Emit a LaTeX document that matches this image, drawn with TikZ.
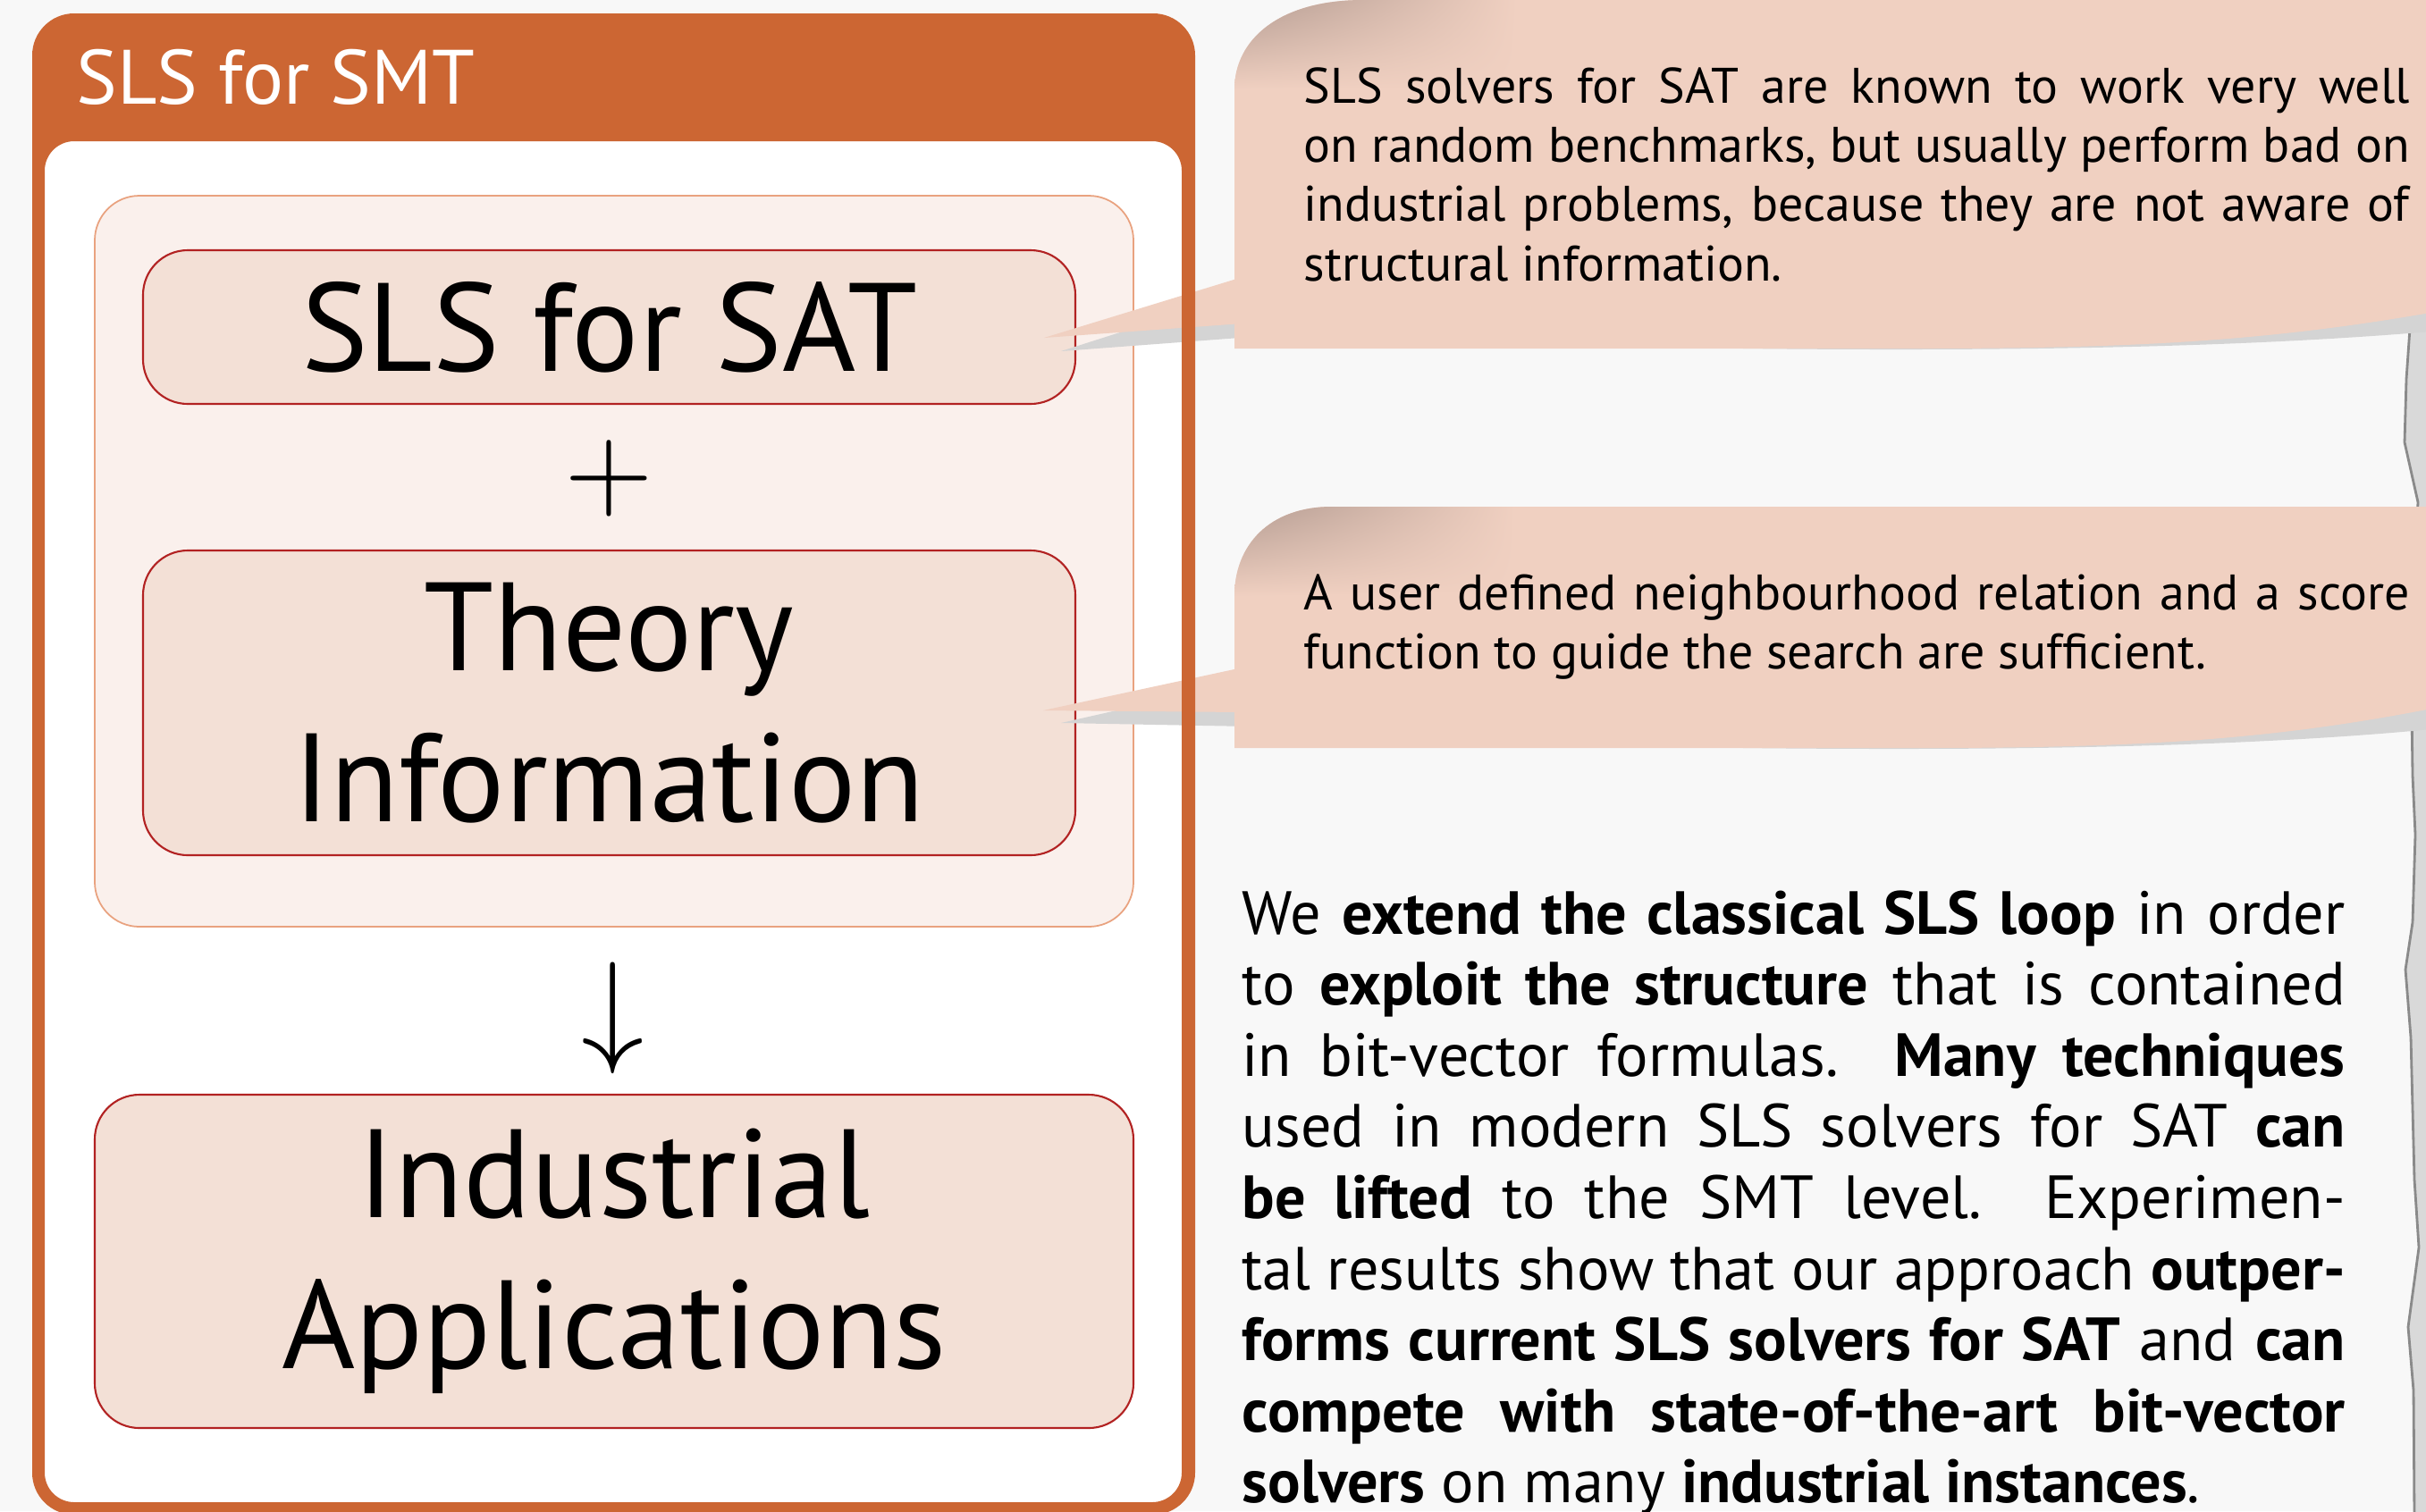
\documentclass[tikz,border=0pt]{standalone}
\usepackage{graphicx}
\usepackage{fontspec}
\setmainfont{PT Sans}
\usetikzlibrary{calc,shadings}

\definecolor{bgcol}{HTML}{F8F8F8}
\definecolor{blockorange}{HTML}{CC6633}
\definecolor{groupfill}{HTML}{FAF0EC}
\definecolor{groupline}{HTML}{E9A27F}
\definecolor{boxfill}{HTML}{F3E0D6}
\definecolor{boxline}{HTML}{B22222}
\definecolor{callpink}{HTML}{F0D0C1}
\definecolor{curlcol}{HTML}{B49C92}
\definecolor{shadowgray}{HTML}{D4D4D4}
\definecolor{tornfill}{HTML}{D9D9D9}
\definecolor{tornline}{HTML}{8A8A8A}

\begin{document}
\begin{tikzpicture}[
    box/.style={draw=boxline, fill=boxfill, rounded corners=0.5cm, line width=0.6pt, align=center, inner sep=0pt, font=\fontsize{40}{48}\selectfont},
    calltext/.style={text width=12.37cm, align=justify, inner sep=0pt, anchor=base west, font=\fontsize{15.9}{18.9}\selectfont},
    curl/.style={upper left=curlcol, upper right=callpink, lower left=callpink, lower right=callpink}
  ]
	    \useasboundingbox (0,0) rectangle (27.14,-16.91);
	    \fill[bgcol] (0,0) rectangle (27.14,-16.91); %page
	    % torn page edge on the right
	    \filldraw[fill=tornfill, draw=tornline, line width=0.8pt] (27.4,-3.0) -- (26.98,-3.0) -- (26.97,-3.53) -- (26.92,-4.24) -- (26.90,-4.95) -- (27.05,-5.62) -- (26.98,-6.8) -- (26.98,-7.97) -- (26.99,-8.68) -- (27.02,-9.34) -- (26.99,-10.32) -- (26.91,-10.85) -- (26.97,-11.61) -- (26.99,-12.41) -- (27.01,-13.20) -- (27.06,-13.96) -- (26.94,-14.85) -- (27.00,-15.56) -- (27.01,-17.0) -- (27.4,-17.0) -- cycle;
	    % block
	    \fill[white, rounded corners=0.33cm] (0.50,-1.58) rectangle (13.22,-16.81);
	    \node[draw=groupline, fill=groupfill, rounded corners=0.5cm, line width=0.5pt, minimum width=11.62cm, minimum height=8.18cm] (group) at (6.87,-6.28) {};
	    \node[box, minimum width=10.43cm, minimum height=1.72cm] (sat) at (6.815,-3.66) {SLS for SAT};
	    \node (plus) at (6.81,-5.35) {\scalebox{3.65}{$+$}};
	    \node (down) at (6.86,-11.395) {\scalebox{4}{$\downarrow$}};
	    \node[box, minimum width=10.43cm, minimum height=3.41cm] (theory) at (6.815,-7.865) {Theory\\Information};
	    \node[box, minimum width=11.62cm, minimum height=3.73cm] (apps) at (6.87,-14.115) {Industrial\\Applications};
	    % pointers of the two notes
	    \coordinate (tip1) at (11.68,-3.78);
	    \coordinate (tip2) at (11.67,-7.95);
	    \fill[shadowgray] ($(tip1)+(0.19,-0.15)$) -- (14.0,-3.25) -- (14.0,-3.77) -- cycle;
	    \fill[callpink] (tip1) -- (13.9,-3.10) -- (13.9,-3.62) -- cycle;
	    \fill[shadowgray] ($(tip2)+(0.2,-0.14)$) -- (14.0,-7.61) -- (14.0,-8.13) -- cycle;
	    \fill[callpink] (tip2) -- (13.9,-7.47) -- (13.9,-7.97) -- cycle;
	    % orange frame and title bar
	    \fill[blockorange, even odd rule] [rounded corners=0.47cm] (0.36,-0.15) rectangle (13.37,-16.95) [rounded corners=0.33cm] (0.50,-1.58) rectangle (13.22,-16.81);
	    \node[anchor=base west, inner sep=0pt, text=white, font=\fontsize{24.5}{28}\selectfont] (title) at (0.85,-1.16) {SLS for SMT};
	    % note 1
	    \fill[shadowgray] (19.5,-3.90) .. controls (23.0,-3.94) and (25.5,-3.86) .. (27.3,-3.70) -- (27.3,-3.3) -- cycle;
	    \fill[callpink] (13.81,-3.90) -- (13.81,-1.0) .. controls (13.81,-0.45) and (14.3,0) .. (15.25,0) -- (27.3,0) -- (27.3,-3.48) .. controls (25.5,-3.80) and (24.0,-3.90) .. (21.5,-3.90) -- cycle;
	    \shade[curl] (13.81,-1.0) .. controls (13.81,-0.45) and (14.3,0) .. (15.25,0) -- (16.97,0) -- (16.97,-1.0) -- cycle;
	    \node[calltext] (note1) at (14.58,-1.15) {SLS solvers for SAT are known to work very well\linebreak on random benchmarks, but usually perform bad on\linebreak industrial problems, because they are not aware of\linebreak structural information.};
	    % note 2
	    \fill[shadowgray] (19.5,-8.37) .. controls (23.0,-8.41) and (25.5,-8.33) .. (27.3,-8.15) -- (27.3,-7.8) -- cycle;
	    \fill[callpink] (13.81,-8.37) -- (13.81,-6.67) .. controls (13.81,-6.1) and (14.2,-5.67) .. (14.9,-5.67) -- (27.3,-5.67) -- (27.3,-7.91) .. controls (25.5,-8.27) and (24.0,-8.37) .. (21.5,-8.37) -- cycle;
	    \shade[curl] (13.81,-6.67) .. controls (13.81,-6.1) and (14.2,-5.67) .. (14.9,-5.67) -- (16.95,-5.67) -- (16.95,-6.6) -- cycle;
	    \node[calltext] (note2) at (14.58,-6.82) {A user defined neighbourhood relation and a score\linebreak function to guide the search are sufficient.};
	    % abstract text
	    \node[anchor=base west, inner sep=0pt, text width=12.34cm, align=justify, font=\fontsize{19.4}{22.65}\selectfont] (abstract) at (13.89,-10.45) {We \textbf{extend the classical SLS loop} in order\linebreak to \textbf{exploit the structure} that is contained\linebreak in bit-vector formulas.  \textbf{Many techniques}\linebreak used in modern SLS solvers for SAT \textbf{can}\linebreak \textbf{be lifted} to the SMT level.  Experimen-\linebreak tal results show that our approach \textbf{outper-}\linebreak \textbf{forms current SLS solvers for SAT} and \textbf{can}\linebreak \textbf{compete with state-of-the-art bit-vector}\linebreak \textbf{solvers} on many \textbf{industrial instances}.};
	    \end{tikzpicture}
\end{document}
